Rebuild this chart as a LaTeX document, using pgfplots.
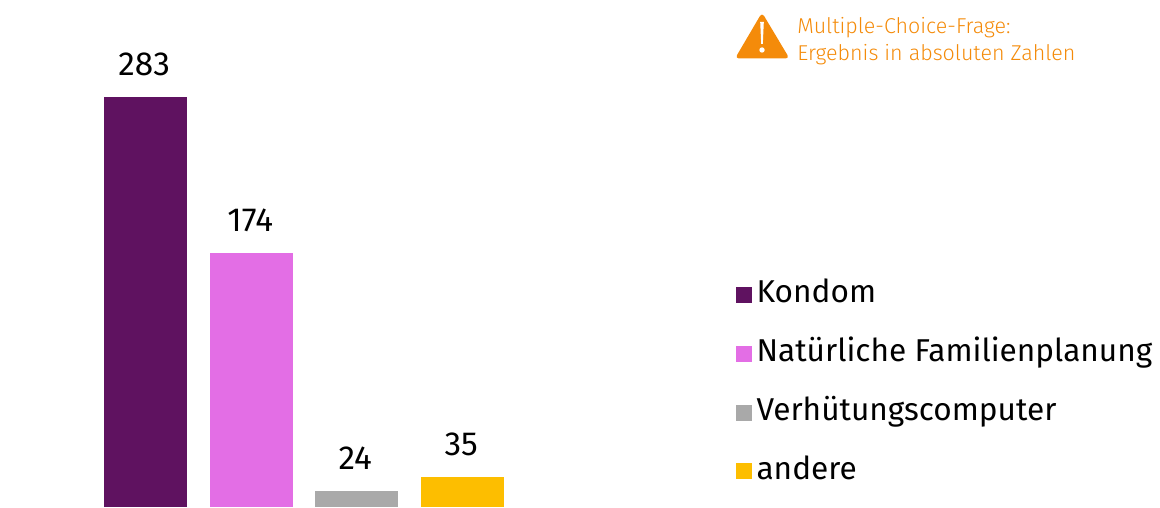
\documentclass[border=0pt]{standalone}
\usepackage{pgfplots}
\usepackage{fontspec}
\setmainfont{Fira Sans}
\newfontfamily\lightf{Fira Sans Light}
\pgfplotsset{compat=1.18}
\definecolor{cK}{HTML}{5F1260}
\definecolor{cN}{HTML}{E36EE5}
\definecolor{cV}{HTML}{A9A9A9}
\definecolor{cA}{HTML}{FDBE00}
\definecolor{cO}{HTML}{F48B0A}
\pgfplotsset{
  sq/.style={area legend, legend image code/.code={\fill[#1] (0pt,0pt) rectangle (12pt,12pt);\path[fill=none,draw=none] (0pt,0pt) rectangle (15.4pt,12pt);}}
}
\begin{document}
\begin{tikzpicture}
\useasboundingbox (0,0) rectangle (870pt,380.25pt);
% The reference's bars are not proportional to their printed values:
% y is the drawn height, [..] is the printed value.
\begin{axis}[
  at={(0,0)}, anchor=south west,
  scale only axis, width=870pt, height=380.25pt,
  hide axis, clip=false,
  xmin=0, xmax=1160, ymin=0, ymax=507,
  ybar, bar width=62.25pt,
  point meta=explicit,
  nodes near coords,
  every node near coord/.append style={font=\fontsize{25}{28}\selectfont, text=black, yshift=12.3pt, xshift=-1pt,
     /pgf/number format/assume math mode=true},
  legend style={at={(axis cs:736,227)}, anchor=north west, draw=none, fill=none,
    font=\fontsize{23.7}{28}\selectfont, row sep=21.7pt, inner sep=0pt, outer sep=0pt,
    nodes={inner sep=0pt, outer sep=0pt, text height=17pt, text depth=5.5pt, anchor=base west}},
  legend cell align=left,
]
\addplot[fill=cK, draw=none, bar shift=0pt, sq=cK] coordinates {(145.5,410)[283]};
\addlegendentry{Kondom}
\addplot[fill=cN, draw=none, bar shift=0pt, sq=cN] coordinates {(251.5,254)[174]};
\addlegendentry{Natürliche Familienplanung}
\addplot[fill=cV, draw=none, bar shift=0pt, sq=cV] coordinates {(356.5,16)[24]};
\addlegendentry{Verhütungscomputer}
\addplot[fill=cA, draw=none, bar shift=0pt, sq=cA] coordinates {(462.5,30)[35]};
\addlegendentry{andere}
\end{axis}
\begin{scope}[x=0.75pt,y=-0.75pt,yshift=380.25pt]
\fill[cO,rounded corners=3pt] (762,12.5) -- (789.5,58.5) -- (735,58.5) -- cycle;
\fill[white] (760.2,22) -- (763.8,22) -- (762.8,44) -- (761.2,44) -- cycle;
\fill[white] (762,50) circle (2.7);
\node[anchor=base west,text=cO,font=\lightf\fontsize{16.1}{18}\selectfont,inner sep=0pt] at (797,34) {Multiple-Choice-Frage:};
\node[anchor=base west,text=cO,font=\lightf\fontsize{16.1}{18}\selectfont,inner sep=0pt] at (797,61) {Ergebnis in absoluten Zahlen};
\end{scope}
\end{tikzpicture}
\end{document}
